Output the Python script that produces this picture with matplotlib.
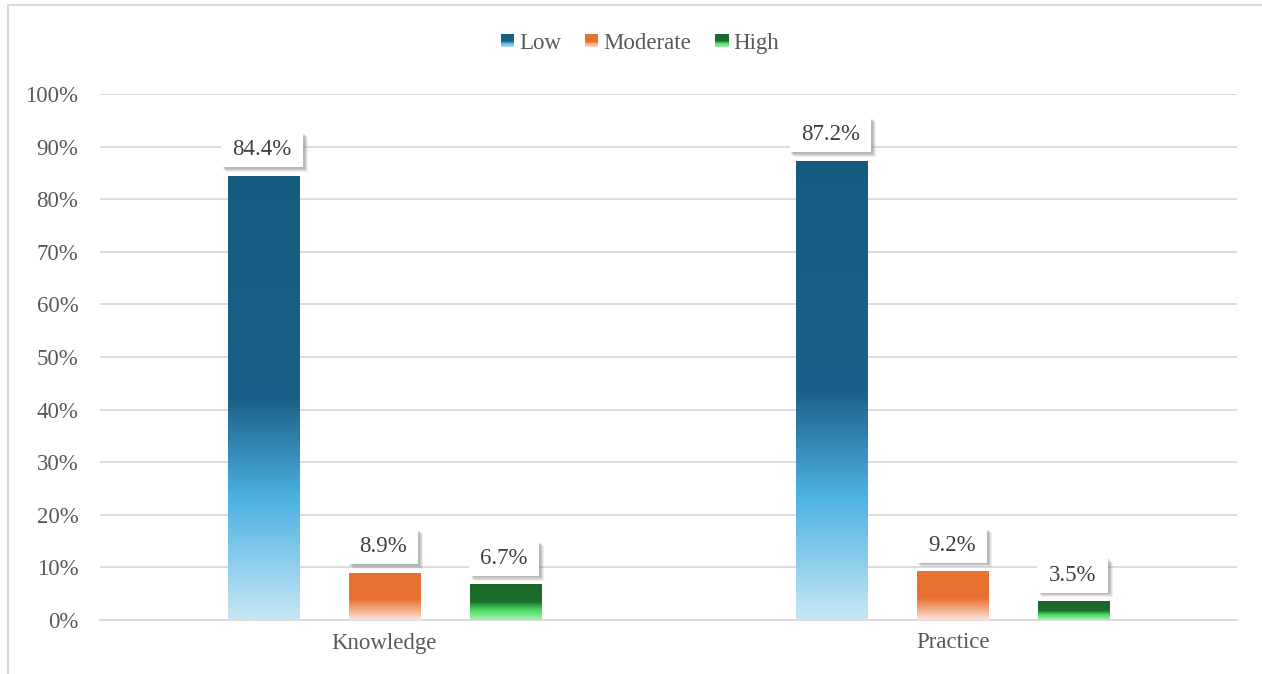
import numpy as np
import matplotlib
matplotlib.use("Agg")
import matplotlib.pyplot as plt
import matplotlib.patches as mpatches
import matplotlib.patheffects as pe
from matplotlib.colors import LinearSegmentedColormap
from matplotlib.legend_handler import HandlerBase

plt.rcParams['font.family'] = ['Liberation Serif', 'DejaVu Serif']

categories = ["Knowledge", "Practice"]
levels = ["Low", "Moderate", "High"]
low = [84.4, 87.2]
moderate = [8.9, 9.2]
high = [6.7, 3.5]

# gradient stops (fraction of bar height, colour), bottom -> top
grad = {
    "Low": [(0, '#c8e7f6'), (0.27, '#4db2e2'), (0.5, '#1b6088'), (1, '#175c80')],
    "Moderate": [(0, '#fce5d8'), (0.45, '#e8702f'), (1, '#e97132')],
    "High": [(0, '#a8f0b0'), (0.28, '#4bd865'), (0.42, '#2a9a40'), (0.5, '#1c6e2c'), (1, '#196727')],
}
cmaps = {k: LinearSegmentedColormap.from_list(k, v) for k, v in grad.items()}

text_col = '#595959'
grid_col = '#d9d9d9'

fig = plt.figure(figsize=(12.62, 6.74), dpi=100)
ax = fig.add_axes([100 / 1262, 1 - 620 / 674, 1137 / 1262, 526 / 674])

# chart border (top and left edges visible)
fig.patches.append(mpatches.Rectangle((8 / 1262, -0.1), 1.2, 1.1 - 5.5 / 674,
                                      transform=fig.transFigure, fill=False,
                                      edgecolor=grid_col, linewidth=1.5))

x = np.arange(len(categories))
w = 0.125
step = 0.213
series = [low, moderate, high]

# soft drop shadow for the value boxes
shadow = [pe.SimplePatchShadow(offset=(d, -d), shadow_rgbFace='#707070', alpha=a)
          for d, a in [(3.5, 0.10), (2.8, 0.14), (2.0, 0.18), (1.2, 0.2)]] + [pe.Normal()]

grad_img = np.linspace(0, 1, 256)[::-1].reshape(-1, 1)
for i, (name, vals) in enumerate(zip(levels, series)):
    bars = ax.bar(x + (i - 1) * step, vals, w, color='none', edgecolor='none', zorder=3)
    for b, v in zip(bars, vals):
        x0, h = b.get_x(), b.get_height()
        ax.imshow(grad_img, cmap=cmaps[name], extent=[x0, x0 + b.get_width(), 0, h],
                  aspect='auto', zorder=3, interpolation='bilinear')
        t = ax.annotate(f"{v:.1f}%", (x0 + b.get_width() / 2 - 0.002, h), xytext=(0, 19),
                        textcoords='offset points', ha='center', va='center',
                        fontsize=16.5, color='#404040', zorder=5,
                        bbox=dict(boxstyle='square,pad=0.5', fc='white', ec='none',
                                  mutation_aspect=0.6))
        t.get_bbox_patch().set_path_effects(shadow)

ax.set_xlim(-0.5, 1.5)
ax.set_ylim(0, 100)
ax.set_yticks(np.arange(0, 101, 10))
ax.set_yticklabels([f"{v}%" for v in range(0, 101, 10)])
ax.set_xticks(x)
ax.set_xticklabels(categories)
ax.tick_params(length=0, colors=text_col, labelsize=16.5)
ax.tick_params(axis='x', pad=9)
ax.tick_params(axis='y', pad=15.5)
ax.grid(axis='y', color=grid_col, linewidth=1.3, zorder=0)
ax.set_axisbelow(True)
for s in ['top', 'right', 'left']:
    ax.spines[s].set_visible(False)
ax.spines['bottom'].set_color(grid_col)
ax.spines['bottom'].set_linewidth(1.3)


class GradHandler(HandlerBase):
    def __init__(self, cmap):
        super().__init__()
        self.cmap = cmap

    def create_artists(self, legend, orig, xd, yd, width, height, fontsize, trans):
        n = 10
        side = width
        x0 = xd
        y0 = yd + (height - side) / 2
        arts = []
        for k in range(n):
            r = mpatches.Rectangle((x0, y0 + k * side / n), side, side / n,
                                   facecolor=self.cmap((k + 0.5) / n), edgecolor='none',
                                   transform=trans)
            arts.append(r)
        return arts


handles = [mpatches.Patch(label=n) for n in levels]
fig.legend(handles, levels, loc='center', bbox_to_anchor=(640 / 1262, 1 - 43 / 674),
           ncol=3, frameon=False, fontsize=16.5, labelcolor=text_col,
           handlelength=0.58, handletextpad=0.22, columnspacing=1.05,
           handler_map={h: GradHandler(cmaps[n]) for h, n in zip(handles, levels)})

fig.savefig("out.png", dpi=100)
